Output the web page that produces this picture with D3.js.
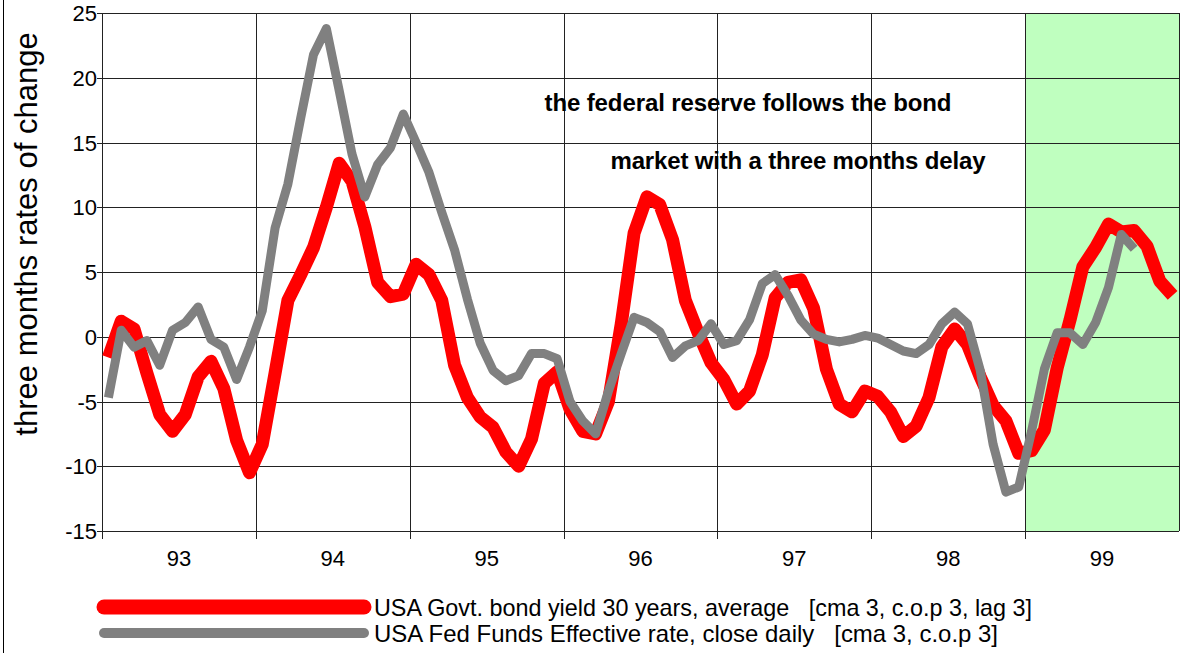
<!DOCTYPE html>
<html><head><meta charset="utf-8">
<script src="https://cdn.jsdelivr.net/npm/d3@7"></script>
<style>body{margin:0;background:#fff}svg{display:block;font-family:"Liberation Sans",Arial,sans-serif}</style>
</head><body><svg id="c" width="1182" height="653"></svg>
<script>
const yearLabels = ["93","94","95","96","97","98","99"];
const yTicks = [-15,-10,-5,0,5,10,15,20,25];
const bondYield = [-1.6,1.2,0.6,-2.8,-6.0,-7.3,-6.0,-3.1,-1.9,-4.0,-8.0,-10.5,
  -8.3,-2.8,2.8,4.8,6.9,10.0,13.4,12.0,8.5,4.2,3.1,3.3,
  5.6,4.8,2.8,-2.2,-4.7,-6.2,-7.0,-8.9,-10.0,-7.9,-3.6,-2.7,
  -5.6,-7.3,-7.5,-5.0,1.0,8.0,10.8,10.2,7.5,2.8,0.3,-2.0,
  -3.3,-5.2,-4.2,-1.4,3.0,4.2,4.4,2.2,-2.5,-5.2,-5.8,-4.2,
  -4.6,-5.8,-7.7,-6.9,-4.7,-0.8,0.6,-0.6,-3.1,-5.3,-6.5,-9.0,
  -8.8,-7.2,-2.4,1.3,5.4,6.9,8.7,8.1,8.2,7.0,4.3,3.2];
const fedFunds = [-4.7,0.5,-0.8,-0.3,-2.2,0.5,1.1,2.3,-0.2,-0.8,-3.3,-0.8,
  2.0,8.4,11.8,16.9,21.8,23.8,19.0,14.1,10.8,13.3,14.6,17.2,
  15.0,12.7,9.6,6.7,2.9,-0.5,-2.6,-3.4,-3.0,-1.3,-1.3,-1.7,
  -5.0,-6.5,-7.5,-4.2,-1.3,1.5,1.1,0.4,-1.6,-0.7,-0.3,1.0,
  -0.6,-0.3,1.3,4.1,4.8,3.2,1.3,0.2,-0.2,-0.4,-0.2,0.1,
  -0.1,-0.6,-1.1,-1.3,-0.6,1.0,1.9,1.0,-2.6,-8.3,-12.0,-11.6,
  -7.3,-2.5,0.3,0.3,-0.6,1.1,3.8,7.9,6.8];
const seriesNames = ["USA Govt. bond yield 30 years, average   [cma 3, c.o.p 3, lag 3]",
  "USA Fed Funds Effective rate, close daily   [cma 3, c.o.p 3]"];
const yTitle = "three months rates of change";
const note = ["the federal reserve follows the bond","market with a three months delay"];

const svg = d3.select("#c");
const L=102,R=1179,T=13,B=531;
const x = d3.scaleLinear().domain([0,84]).range([L,R]);
const y = d3.scaleLinear().domain([-15,25]).range([B,T]);

svg.append("line").attr("x1",3.5).attr("x2",3.5).attr("y1",0).attr("y2",653).attr("stroke","#000").attr("stroke-width",1);

svg.append("rect").attr("x",x(72)).attr("y",T).attr("width",x(84)-x(72)).attr("height",B-T).attr("fill","#bfffbf");

svg.append("g").selectAll("line").data(yTicks).join("line")
  .attr("x1",L-5).attr("x2",R).attr("y1",d=>Math.round(y(d))+0.5).attr("y2",d=>Math.round(y(d))+0.5)
  .attr("stroke","#222").attr("stroke-width",1);
const vb=[0,12,24,36,48,60,72,84];
svg.append("g").selectAll("line").data(vb).join("line")
  .attr("x1",d=>Math.round(x(d))+0.5).attr("x2",d=>Math.round(x(d))+0.5)
  .attr("y1",T).attr("y2",d=>d===84?B:B+8)
  .attr("stroke","#222").attr("stroke-width",1);

svg.append("g").selectAll("text").data(yTicks).join("text")
  .attr("x",L-5).attr("y",d=>y(d)+8).attr("text-anchor","end")
  .attr("font-size",22).text(d=>d);
svg.append("g").selectAll("text").data(yearLabels).join("text")
  .attr("x",(d,i)=>x(i*12+6)).attr("y",566).attr("text-anchor","middle")
  .attr("font-size",22).text(d=>d);

svg.append("text").attr("transform","translate(37,234) rotate(-90)")
  .attr("text-anchor","middle").attr("font-size",31).text(yTitle);

svg.append("text").attr("x",748).attr("y",111).attr("text-anchor","middle")
  .attr("font-size",24).attr("font-weight","bold").attr("textLength",407).text(note[0]);
svg.append("text").attr("x",798).attr("y",169).attr("text-anchor","middle")
  .attr("font-size",24).attr("font-weight","bold").attr("textLength",375).text(note[1]);

const line = d3.line().x((d,i)=>x(i+0.5)).y(d=>y(d));
svg.append("path").datum(bondYield).attr("d",line).attr("fill","none")
  .attr("stroke","#ff0000").attr("stroke-width",13).attr("stroke-linejoin","round").attr("stroke-linecap","butt");
svg.append("path").datum(fedFunds).attr("d",line).attr("fill","none")
  .attr("stroke","#808080").attr("stroke-width",9).attr("stroke-linejoin","round").attr("stroke-linecap","butt");

const lg = svg.append("g");
const legendItems=[{c:"#ff0000",w:15,yy:607,t:seriesNames[0],len:658},{c:"#808080",w:10,yy:633,t:seriesNames[1],len:624}];
legendItems.forEach(it=>{
  lg.append("line").attr("x1",104).attr("x2",364).attr("y1",it.yy).attr("y2",it.yy)
    .attr("stroke",it.c).attr("stroke-width",it.w).attr("stroke-linecap","round");
  lg.append("text").attr("x",374).attr("y",it.yy+9).attr("font-size",24)
    .attr("textLength",it.len).attr("lengthAdjust","spacingAndGlyphs")
    .attr("xml:space","preserve").style("white-space","pre").text(it.t);
});
</script></body></html>
